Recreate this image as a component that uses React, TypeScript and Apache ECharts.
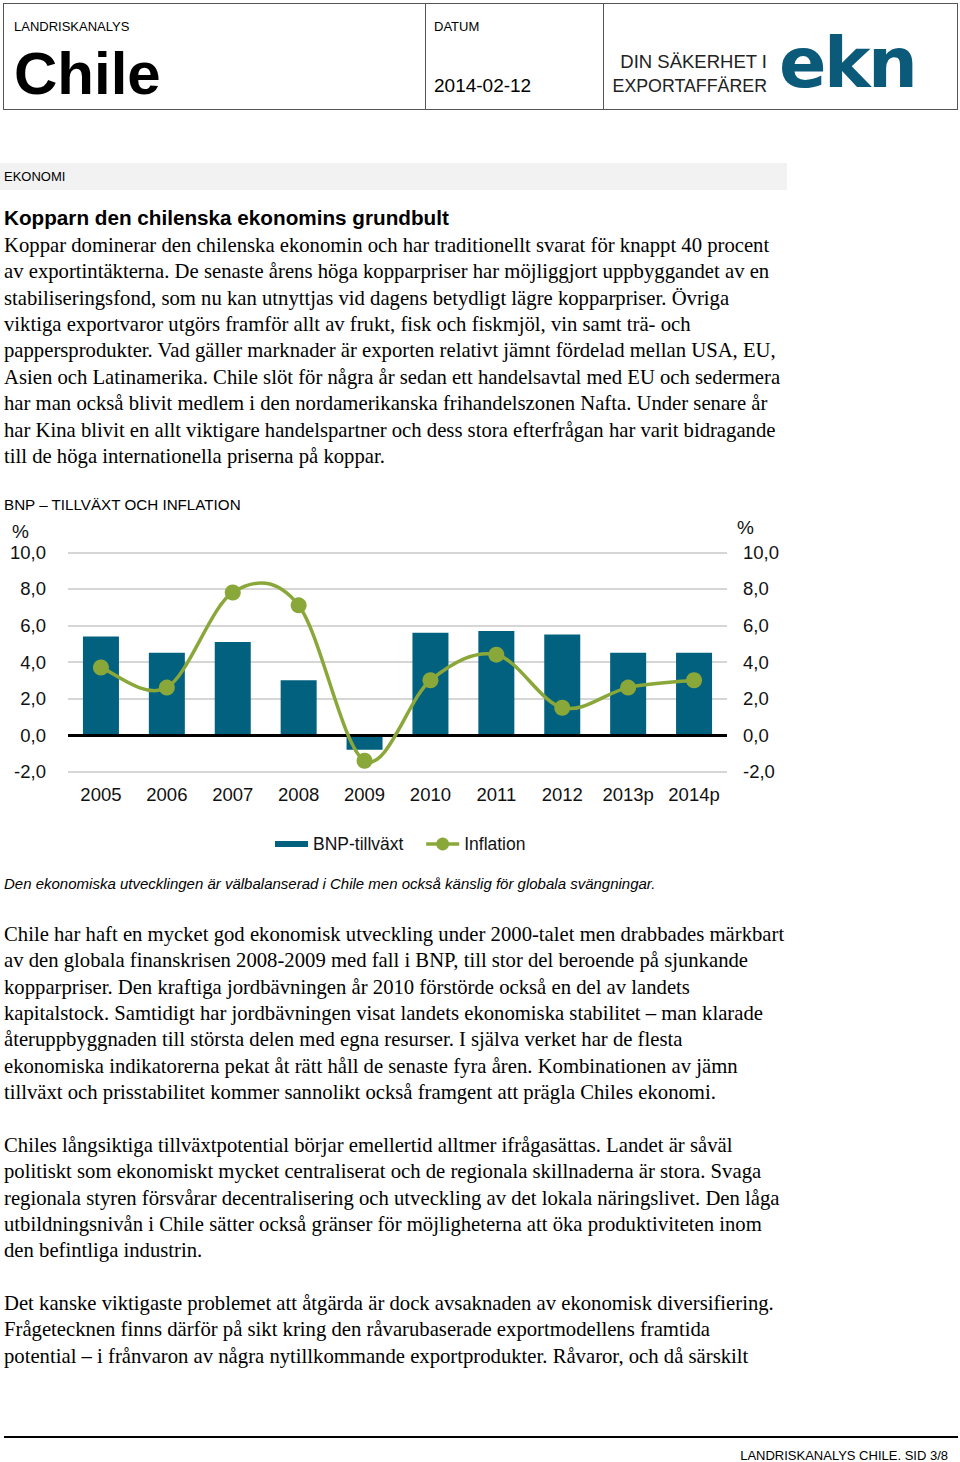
import React, { useEffect, useRef } from "react";
import * as echarts from "echarts";

const years = ["2005", "2006", "2007", "2008", "2009", "2010", "2011", "2012", "2013p", "2014p"];
const gdpGrowth = [5.4, 4.5, 5.1, 3.0, -0.8, 5.6, 5.7, 5.5, 4.5, 4.5];
const inflation = [3.7, 2.6, 7.8, 7.1, -1.4, 3.0, 4.4, 1.5, 2.6, 3.0];
const yMin = -2;
const yMax = 10;
const yStep = 2;

const para1 = [
  "Koppar dominerar den chilenska ekonomin och har traditionellt svarat för knappt 40 procent",
  "av exportintäkterna. De senaste årens höga kopparpriser har möjliggjort uppbyggandet av en",
  "stabiliseringsfond, som nu kan utnyttjas vid dagens betydligt lägre kopparpriser. Övriga",
  "viktiga exportvaror utgörs framför allt av frukt, fisk och fiskmjöl, vin samt trä- och",
  "pappersprodukter. Vad gäller marknader är exporten relativt jämnt fördelad mellan USA, EU,",
  "Asien och Latinamerika. Chile slöt för några år sedan ett handelsavtal med EU och sedermera",
  "har man också blivit medlem i den nordamerikanska frihandelszonen Nafta. Under senare år",
  "har Kina blivit en allt viktigare handelspartner och dess stora efterfrågan har varit bidragande",
  "till de höga internationella priserna på koppar.",
];
const para2 = [
  "Chile har haft en mycket god ekonomisk utveckling under 2000-talet men drabbades märkbart",
  "av den globala finanskrisen 2008-2009 med fall i BNP, till stor del beroende på sjunkande",
  "kopparpriser. Den kraftiga jordbävningen år 2010 förstörde också en del av landets",
  "kapitalstock. Samtidigt har jordbävningen visat landets ekonomiska stabilitet – man klarade",
  "återuppbyggnaden till största delen med egna resurser. I själva verket har de flesta",
  "ekonomiska indikatorerna pekat åt rätt håll de senaste fyra åren. Kombinationen av jämn",
  "tillväxt och prisstabilitet kommer sannolikt också framgent att prägla Chiles ekonomi.",
];
const para3 = [
  "Chiles långsiktiga tillväxtpotential börjar emellertid alltmer ifrågasättas. Landet är såväl",
  "politiskt som ekonomiskt mycket centraliserat och de regionala skillnaderna är stora. Svaga",
  "regionala styren försvårar decentralisering och utveckling av det lokala näringslivet. Den låga",
  "utbildningsnivån i Chile sätter också gränser för möjligheterna att öka produktiviteten inom",
  "den befintliga industrin.",
];
const para4 = [
  "Det kanske viktigaste problemet att åtgärda är dock avsaknaden av ekonomisk diversifiering.",
  "Frågetecknen finns därför på sikt kring den råvarubaserade exportmodellens framtida",
  "potential – i frånvaron av några nytillkommande exportprodukter. Råvaror, och då särskilt",
];

const SANS = '"Liberation Sans", Arial, Helvetica, sans-serif';
const SERIF = '"Liberation Serif", "Times New Roman", serif';
const LH = 26.4;
const GREEN = "#8aa83a";
const BLUE = "#02617f";

function Para({ lines, top }: { lines: string[]; top: number }) {
  return (
    <div
      style={{
        position: "absolute",
        left: 4,
        top,
        fontFamily: SERIF,
        fontSize: 20.7,
        lineHeight: LH + "px",
        color: "#000",
        whiteSpace: "pre",
      }}
    >
      {lines.map((l, i) => (
        <div key={i} style={{ height: LH }}>
          {l}
        </div>
      ))}
    </div>
  );
}

function Chart() {
  const ref = useRef<HTMLDivElement>(null);
  useEffect(() => {
    if (!ref.current) return;
    const chart = echarts.init(ref.current, undefined, { renderer: "svg" });
    const fmt = (v: number) => v.toFixed(1).replace(".", ",");
    const axisCommon = {
      type: "value" as const,
      min: yMin,
      max: yMax,
      interval: yStep,
      axisLine: { show: false },
      axisTick: { show: false },
    };
    const n = inflation.length;
    chart.setOption({
      animation: false,
      title: {
        text: "BNP – TILLVÄXT OCH INFLATION",
        left: 4,
        top: 7,
        padding: 0,
        textStyle: { fontFamily: SANS, fontSize: 15.2, fontWeight: "normal", color: "#000" },
      },
      grid: { left: 68, top: 62.3, width: 659, height: 219.4, containLabel: false },
      xAxis: {
        type: "category",
        data: years,
        axisLine: { show: false },
        axisTick: { show: false },
        axisLabel: {
          interval: 0,
          margin: 13,
          fontFamily: SANS,
          fontSize: 18.5,
          color: "#111",
        },
      },
      yAxis: [
        {
          ...axisCommon,
          position: "left",
          splitLine: { lineStyle: { color: "#c9c9c9", width: 1.5 } },
          axisLabel: { margin: 22, fontFamily: SANS, fontSize: 18.5, color: "#111", formatter: fmt },
        },
        {
          ...axisCommon,
          position: "right",
          splitLine: { show: false },
          axisLabel: { margin: 16, fontFamily: SANS, fontSize: 18.5, color: "#111", formatter: fmt },
        },
      ],
      legend: {
        left: 270,
        top: 340,
        itemWidth: 33,
        itemHeight: 16,
        itemGap: 21,
        textStyle: { fontFamily: SANS, fontSize: 17.5, color: "#111" },
        data: [
          { name: "BNP-tillväxt", icon: "path://M0,0 H33 V6 H0 Z" },
          { name: "Inflation", lineStyle: { color: GREEN, width: 3.5, opacity: 1 } },
        ],
      },
      graphic: [
        { type: "text", left: 12, top: 32, style: { text: "%", fontFamily: SANS, fontSize: 19, fill: "#111" } },
        { type: "text", left: 737, top: 28, style: { text: "%", fontFamily: SANS, fontSize: 19, fill: "#111" } },
      ],
      series: [
        {
          name: "BNP-tillväxt",
          type: "bar",
          data: gdpGrowth,
          barWidth: 36,
          yAxisIndex: 0,
          z: 2,
          itemStyle: { color: BLUE },
          markLine: {
            silent: true,
            symbol: "none",
            label: { show: false },
            lineStyle: { color: "#000", width: 3, type: "solid" },
            data: [{ yAxis: 0 }],
          },
        },
        {
          name: "InflationCurve",
          type: "custom",
          coordinateSystem: "cartesian2d",
          yAxisIndex: 0,
          silent: true,
          clip: false,
          z: 10,
          data: inflation.map((v, i) => [i, v]),
          renderItem: (params: any, api: any) => {
            const i = params.dataIndex;
            if (i >= n - 1) return null;
            const pt = (k: number) => {
              const kk = Math.max(0, Math.min(n - 1, k));
              return api.coord([kk, inflation[kk]]);
            };
            const p0 = pt(i - 1);
            const p1 = pt(i);
            const p2 = pt(i + 1);
            const p3 = pt(i + 2);
            const t = 1 / 6;
            return {
              type: "bezierCurve",
              z2: 10,
              shape: {
                x1: p1[0],
                y1: p1[1],
                x2: p2[0],
                y2: p2[1],
                cpx1: p1[0] + (p2[0] - p0[0]) * t,
                cpy1: p1[1] + (p2[1] - p0[1]) * t,
                cpx2: p2[0] - (p3[0] - p1[0]) * t,
                cpy2: p2[1] - (p3[1] - p1[1]) * t,
              },
              style: { stroke: GREEN, lineWidth: 3.5, fill: "none" },
            };
          },
        },
        {
          name: "Inflation",
          type: "line",
          data: inflation,
          yAxisIndex: 0,
          z: 11,
          symbol: "circle",
          symbolSize: 16,
          lineStyle: { color: GREEN, width: 3.5, opacity: 0 },
          itemStyle: { color: GREEN },
        },
      ],
    });
    return () => chart.dispose();
  }, []);
  return <div ref={ref} style={{ position: "absolute", left: 0, top: 490, width: 800, height: 375 }} />;
}

export default function App() {
  return (
    <div
      style={{
        position: "absolute",
        left: 0,
        top: 0,
        width: 960,
        height: 1462,
        background: "#fff",
        overflow: "hidden",
        fontFamily: SANS,
        color: "#000",
      }}
    >
      {/* header box */}
      <div
        style={{
          position: "absolute",
          left: 3,
          top: 3,
          width: 955,
          height: 107,
          border: "1px solid #555",
          boxSizing: "border-box",
        }}
      />
      <div style={{ position: "absolute", left: 425, top: 3, width: 1, height: 107, background: "#555" }} />
      <div style={{ position: "absolute", left: 603, top: 3, width: 1, height: 107, background: "#555" }} />
      <div style={{ position: "absolute", left: 14, top: 19, fontSize: 13, lineHeight: "16px" }}>LANDRISKANALYS</div>
      <div style={{ position: "absolute", left: 14, top: 41, fontSize: 60, fontWeight: "bold", lineHeight: "66px" }}>Chile</div>
      <div style={{ position: "absolute", left: 434, top: 19, fontSize: 13, lineHeight: "16px" }}>DATUM</div>
      <div style={{ position: "absolute", left: 434, top: 75, fontSize: 19, lineHeight: "22px" }}>2014-02-12</div>
      <div
        style={{
          position: "absolute",
          left: 560,
          width: 207,
          top: 50,
          lineHeight: "24px",
          textAlign: "right",
          color: "#222",
        }}
      >
        <div style={{ fontSize: 18.5 }}>DIN SÄKERHET I</div>
        <div style={{ fontSize: 17.8 }}>EXPORTAFFÄRER</div>
      </div>
      <div
        style={{
          position: "absolute",
          left: 779,
          top: 23,
          fontFamily: '"DejaVu Sans", sans-serif',
          fontWeight: "bold",
          fontSize: 70,
          lineHeight: "80px",
          letterSpacing: -2.5,
          color: "#0b5a79",
        }}
      >
        ekn
      </div>

      {/* section band */}
      <div style={{ position: "absolute", left: 0, top: 163, width: 787, height: 27, background: "#f2f2f2" }} />
      <div style={{ position: "absolute", left: 4, top: 169, fontSize: 13, lineHeight: "16px" }}>EKONOMI</div>

      <div style={{ position: "absolute", left: 4, top: 206, fontSize: 20.7, fontWeight: "bold", lineHeight: "24px" }}>
        Kopparn den chilenska ekonomins grundbult
      </div>
      <Para lines={para1} top={245 - LH / 2} />

      <Chart />

      <div
        style={{
          position: "absolute",
          left: 4,
          top: 875,
          fontSize: 15,
          fontStyle: "italic",
          lineHeight: "18px",
          whiteSpace: "pre",
        }}
      >
        Den ekonomiska utvecklingen är välbalanserad i Chile men också känslig för globala svängningar.
      </div>

      <Para lines={para2} top={934 - LH / 2} />
      <Para lines={para3} top={1145 - LH / 2} />
      <Para lines={para4} top={1303 - LH / 2} />

      {/* footer */}
      <div style={{ position: "absolute", left: 4, top: 1436, width: 954, height: 2, background: "#000" }} />
      <div
        style={{
          position: "absolute",
          right: 12,
          top: 1448,
          fontSize: 13,
          lineHeight: "16px",
          whiteSpace: "pre",
        }}
      >
        LANDRISKANALYS CHILE. SID 3/8
      </div>
    </div>
  );
}
